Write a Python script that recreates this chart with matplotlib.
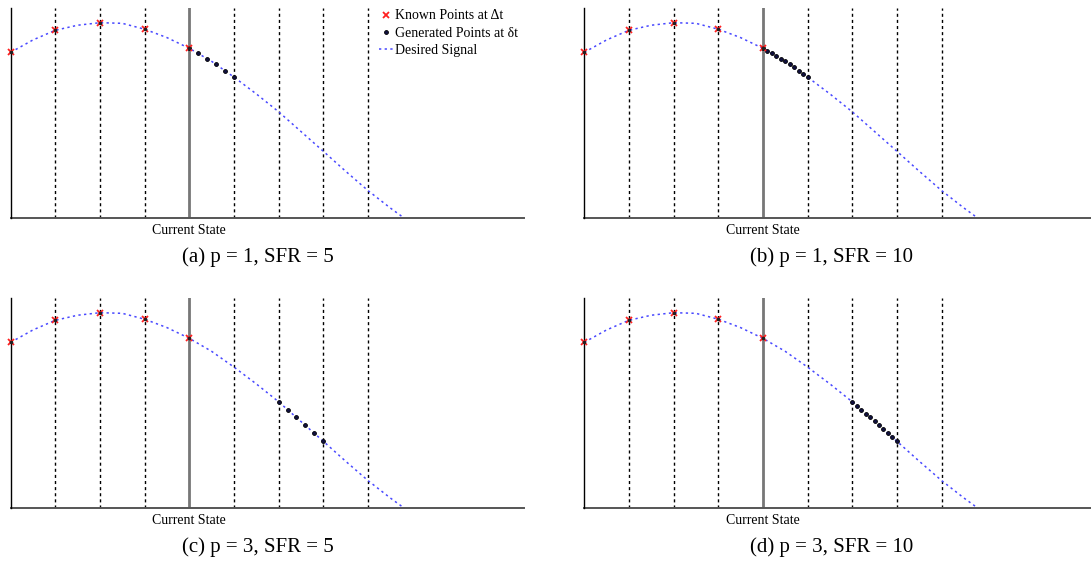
import matplotlib
matplotlib.use("Agg")
import matplotlib.pyplot as plt

plt.rcParams['font.family'] = ['Liberation Serif', 'DejaVu Serif']

# ---- data ----
signal_x = [0, 0.5, 1, 1.5, 2, 2.5, 3, 3.5, 4, 4.5, 5, 5.5, 6, 6.5, 7, 7.5, 8, 8.5, 8.81]
signal_y = [0.789, 0.848, 0.894, 0.918, 0.930, 0.927, 0.899, 0.859, 0.808, 0.746,
            0.671, 0.591, 0.506, 0.412, 0.318, 0.223, 0.131, 0.048, 0.0]

known_x = [0, 1, 2, 3, 4]
known_y = [0.789, 0.894, 0.930, 0.899, 0.808]

gen_a_x = [4.0, 4.2, 4.4, 4.6, 4.8, 5.0]
gen_a_y = [0.808, 0.784, 0.759, 0.732, 0.702, 0.672]

gen_b_x = [4.0, 4.1, 4.2, 4.3, 4.4, 4.5, 4.6, 4.7, 4.8, 4.9, 5.0]
gen_b_y = [0.808, 0.795, 0.784, 0.771, 0.759, 0.746, 0.732, 0.718, 0.702, 0.687, 0.671]

gen_c_x = [6.0, 6.2, 6.4, 6.6, 6.8, 7.0]
gen_c_y = [0.504, 0.468, 0.431, 0.393, 0.355, 0.320]

gen_d_x = [6.0, 6.1, 6.2, 6.3, 6.4, 6.5, 6.6, 6.7, 6.8, 6.9, 7.0]
gen_d_y = [0.504, 0.486, 0.468, 0.450, 0.431, 0.412, 0.393, 0.374, 0.355, 0.337, 0.320]

grid_x = [1, 2, 3, 5, 6, 7, 8]
current_x = 4
tick_label = "Current State"

captions = ["(a) p = 1, SFR = 5", "(b) p = 1, SFR = 10",
            "(c) p = 3, SFR = 5", "(d) p = 3, SFR = 10"]
legend_labels = ["Known Points at \u0394t", "Generated Points at \u03b4t", "Desired Signal"]

# ---- layout ----
W, H = 1091, 563
fig = plt.figure(figsize=(W / 100, H / 100), dpi=100)

def fx(px):
    return px / W

def fy(py):
    return 1 - py / H

ax_w_px = 11.5 * 44.65
panels = [
    (10.7, 8, 218, gen_a_x, gen_a_y, 258, 257),
    (584.3, 8, 218, gen_b_x, gen_b_y, 832, 257),
    (10.7, 298, 508, gen_c_x, gen_c_y, 258, 547),
    (584.3, 298, 508, gen_d_x, gen_d_y, 832, 547),
]

for i, (lpx, tpx, bpx, gx, gy, cx, cy) in enumerate(panels):
    ax = fig.add_axes([fx(lpx), fy(bpx), ax_w_px / W, (bpx - tpx) / H])
    ax.set_xlim(0, 11.5)
    ax.set_ylim(0, 1)
    for xv in grid_x:
        ax.axvline(xv, color='black', lw=1.0, ls=(0, (2.2, 2.2)), zorder=1)
    ax.axvline(current_x, color='#777777', lw=2.0, zorder=1)
    sig, = ax.plot(signal_x, signal_y, color='#4848ff', lw=1.1, ls=(0, (1.5, 2.2)), zorder=2)
    gen, = ax.plot(gx, gy, ls='none', marker='o', ms=2.8, mfc='#101040', mec='black',
                   mew=0.6, zorder=3)
    kn, = ax.plot(known_x, known_y, ls='none', marker='x', ms=4.2, mew=1.3, color='#ff2020',
                  zorder=4, clip_on=False)
    ax.plot(known_x, known_y, ls='none', marker='o', ms=1.6, color='#202020', zorder=5,
            clip_on=False)

    ax.spines['top'].set_visible(False)
    ax.spines['right'].set_visible(False)
    ax.spines['left'].set_color('black')
    ax.spines['left'].set_linewidth(1.0)
    ax.spines['left'].set_zorder(3.5)
    ax.spines['bottom'].set_color('#555555')
    ax.spines['bottom'].set_linewidth(1.4)
    ax.set_yticks([])
    ax.set_xticks([current_x])
    ax.set_xticklabels([tick_label], fontsize=10)
    ax.tick_params(axis='x', length=0, pad=4)

    if i == 0:
        ax.legend([kn, gen, sig], legend_labels, loc='upper left',
                  bbox_to_anchor=(0.714, 1.0), frameon=False, fontsize=10,
                  handlelength=1.0, handletextpad=0.15, labelspacing=0.3,
                  borderpad=0.1, borderaxespad=0.0, numpoints=1)

    fig.text(fx(cx), fy(cy), captions[i], ha='center', va='center', fontsize=15)

fig.savefig("out.png", dpi=100)
